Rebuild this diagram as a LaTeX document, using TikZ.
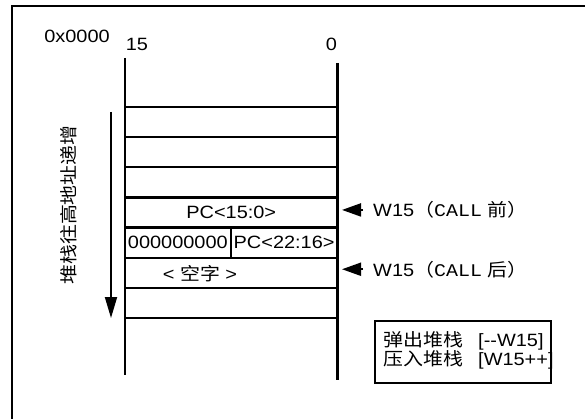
\documentclass[tikz,border=0pt]{standalone}
\usepackage{fontspec}
\setmainfont{Liberation Sans}[FakeStretch=1.12]
\setmonofont{Liberation Mono}[FakeStretch=1.12]
\newfontfamily\cjk{Noto Sans CJK SC}[FakeStretch=1.12]
\usetikzlibrary{arrows.meta}

\tikzset{
  txt/.style={inner sep=0pt, font=\fontsize{17.8}{21}\selectfont},
  cell/.style={draw, line width=2.4pt, inner sep=0pt, outer sep=0pt,
    minimum height=30.14pt, font=\fontsize{17.8}{21}\selectfont},
  ptr/.style={line width=2pt, -{Triangle[length=19pt,width=13pt]}},
}

\begin{document}
\begin{tikzpicture}[x=1pt, y=-1pt]
    \useasboundingbox (0,0) rectangle (585,419);
    % outer frame (top and left only)
    \coordinate (frameTL) at (12,6);
    \coordinate (frameTR) at (585,6);
    \coordinate (frameBL) at (12,419);
    \draw[line width=2.4pt] (frameTR) -- (frameTL) -- (frameBL);

    \node[txt, anchor=base] (addr) at (77,43){0x0000};
    \node[txt, anchor=base] (msb) at (137,51){15};
    \node[txt, anchor=base] (lsb) at (331.5,51){0};

    % stack words
    \node[cell, minimum width=212.5pt] (r1) at (231.25,122.07){};
    \node[cell, minimum width=212.5pt] (r2) at (231.25,152.21){};
    \node[cell, minimum width=212.5pt] (r3) at (231.25,182.35){};
    \node[cell, minimum width=212.5pt] (pclo) at (231.25,212.5){PC<15:0>};
    \node[cell, minimum width=105.7pt] (zeros) at (177.85,242.64){000000000};
    \node[cell, minimum width=106.8pt] (pchi) at (284.1,242.64){PC<22:16>};
    \node[cell, minimum width=212.5pt] (free) at (231.25,272.78){};
    \node[txt] (freetxt) at (200,273.5){< {\cjk 空字} >};
    \node[cell, minimum width=212.5pt] (r7) at (231.25,302.92){};

    \coordinate (leftTop) at (125,58);
    \coordinate (leftBot) at (125,375);
    \coordinate (rightTop) at (337.5,63);
    \coordinate (rightBot) at (337.5,380);
    \draw[line width=2.4pt] (leftTop) -- (leftBot);
    \draw[line width=2.4pt] (rightTop) -- (rightBot);

    % growth direction
    \node[txt, rotate=90] (grow) at (68.5,205){\cjk 堆栈往高地址递增};
    \coordinate (growTop) at (111,112);
    \coordinate (growBot) at (111,318);
    \draw[line width=1.9pt, -{Triangle[length=21pt,width=12pt]}] (growTop) -- (growBot);

    % W15 before and after the call
    \node[txt, anchor=base west] (wpre) at (373,216.7){W15{\cjk （}{\ttfamily CALL} {\cjk 前）}};
    \node[txt, anchor=base west] (wpost) at (373,276){W15{\cjk （}{\ttfamily CALL} {\cjk 后）}};
    \draw[ptr, shorten <=10pt, shorten >=4.5pt] (wpre.west) -- (wpre.west -| pclo.east);
    \draw[ptr, shorten <=10pt, shorten >=4.5pt] (wpost.west) -- (wpost.west -| free.east);

    % key
    \node[draw, line width=2.4pt, minimum width=176pt, minimum height=62pt, inner sep=0pt] (key) at (463,352){};
    \node[txt, anchor=base west] (pop) at (383,346){\makebox[95pt][l]{\cjk 弹出堆栈}[-{}-W15]};
    \node[txt, anchor=base west] (push) at (383,365){\makebox[95pt][l]{\cjk 压入堆栈}[W15++]};
  \end{tikzpicture}
\end{document}
